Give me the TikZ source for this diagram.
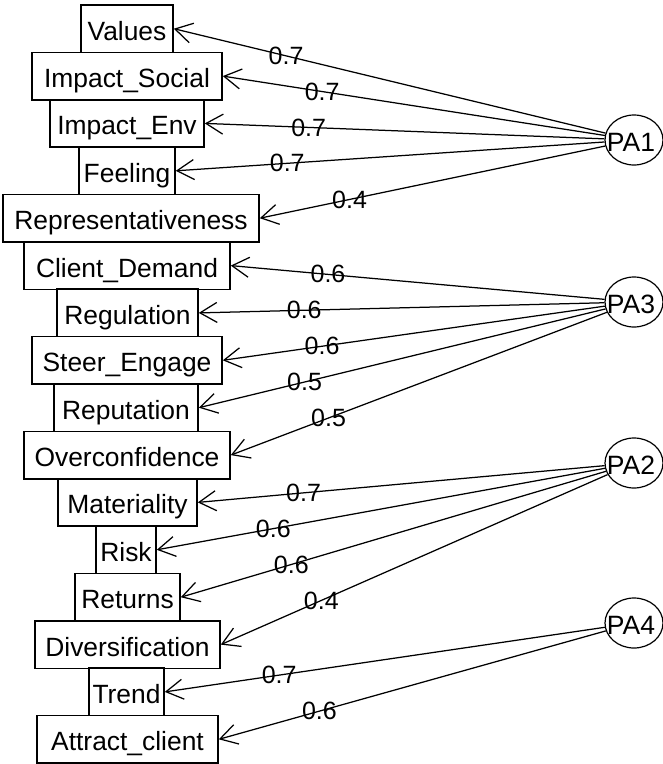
\documentclass[tikz,border=0pt]{standalone}
\usepackage{fontspec}
\setmainfont{Liberation Sans}
\usetikzlibrary{arrows.meta,shapes.geometric}
\tikzset{
  obs/.style={draw, line width=1.6pt, rectangle, inner sep=0pt, minimum height=47.4pt,
    text height=27pt, text depth=4pt, font=\fontsize{26.4}{30}\selectfont},
  latent/.style={draw, line width=1.2pt, ellipse, inner sep=0pt, minimum width=58pt, minimum height=50pt},
  lattext/.style={inner sep=0pt, font=\fontsize{26.5}{30}\selectfont},
  load/.style={line width=1.25pt, arrows={Straight Barb[length=17pt,width=20pt,line width=1.25pt]-}},
  lbl/.style={inner sep=0pt, font=\fontsize{25}{28}\selectfont, pos=0.26}
}
\begin{document}
\begin{tikzpicture}[x=1pt,y={(0pt,-1pt)}]
\useasboundingbox (0,0) rectangle (663,764);
% observed variables
\node[obs, minimum width=92pt]  (Values) at (127,28.7) {Values};
\node[obs, minimum width=190pt] (ImpSoc) at (127,76.1) {Impact\_Social};
\node[obs, minimum width=154pt] (ImpEnv) at (127,123.4) {Impact\_Env};
\node[obs, minimum width=96pt]  (Feel) at (127,170.8) {Feeling};
\node[obs, minimum width=256pt] (Repr) at (131,218.2) {Representativeness};
\node[obs, minimum width=206pt] (ClDem) at (127,265.6) {Client\_Demand};
\node[obs, minimum width=141pt] (Regul) at (127.5,312.9) {Regulation};
\node[obs, minimum width=190pt] (Steer) at (127,360.3) {Steer\_Engage};
\node[obs, minimum width=144pt] (Reput) at (126,407.7) {Reputation};
\node[obs, minimum width=206pt] (Overc) at (127,455.1) {Overconfidence};
\node[obs, minimum width=139pt] (Mater) at (127.5,502.4) {Materiality};
\node[obs, minimum width=60pt]  (Risk) at (126,549.8) {Risk};
\node[obs, minimum width=105pt] (Retur) at (127.5,597.2) {Returns};
\node[obs, minimum width=185pt] (Diver) at (127.5,644.6) {Diversification};
\node[obs, minimum width=75pt]  (Trend) at (126.5,691.9) {Trend};
\node[obs, minimum width=181pt] (Attr) at (127.5,739.3) {Attract\_client};
% latent factors
\node[latent, label={[lattext, xshift=-3pt, yshift=-2pt]center:PA1}] (PA1) at (634,140) {};
\node[latent, label={[lattext, xshift=-3pt, yshift=-2pt]center:PA3}] (PA3) at (634,302) {};
\node[latent, label={[lattext, xshift=-3pt, yshift=-2pt]center:PA2}] (PA2) at (634,463) {};
\node[latent, label={[lattext, xshift=-3pt, yshift=-2pt]center:PA4}] (PA4) at (634,623) {};
% loadings
\draw[load] (Values.east) -- node[lbl]{0.7} (PA1);
\draw[load] (ImpSoc.east) -- node[lbl]{0.7} (PA1);
\draw[load] (ImpEnv.east) -- node[lbl]{0.7} (PA1);
\draw[load] (Feel.east) -- node[lbl]{0.7} (PA1);
\draw[load] (Repr.east) -- node[lbl]{0.4} (PA1);
\draw[load] (ClDem.east) -- node[lbl]{0.6} (PA3);
\draw[load] (Regul.east) -- node[lbl]{0.6} (PA3);
\draw[load] (Steer.east) -- node[lbl]{0.6} (PA3);
\draw[load] (Reput.east) -- node[lbl]{0.5} (PA3);
\draw[load] (Overc.east) -- node[lbl]{0.5} (PA3);
\draw[load] (Mater.east) -- node[lbl]{0.7} (PA2);
\draw[load] (Risk.east) -- node[lbl]{0.6} (PA2);
\draw[load] (Retur.east) -- node[lbl]{0.6} (PA2);
\draw[load] (Diver.east) -- node[lbl]{0.4} (PA2);
\draw[load] (Trend.east) -- node[lbl]{0.7} (PA4);
\draw[load] (Attr.east) -- node[lbl]{0.6} (PA4);
\end{tikzpicture}
\end{document}
